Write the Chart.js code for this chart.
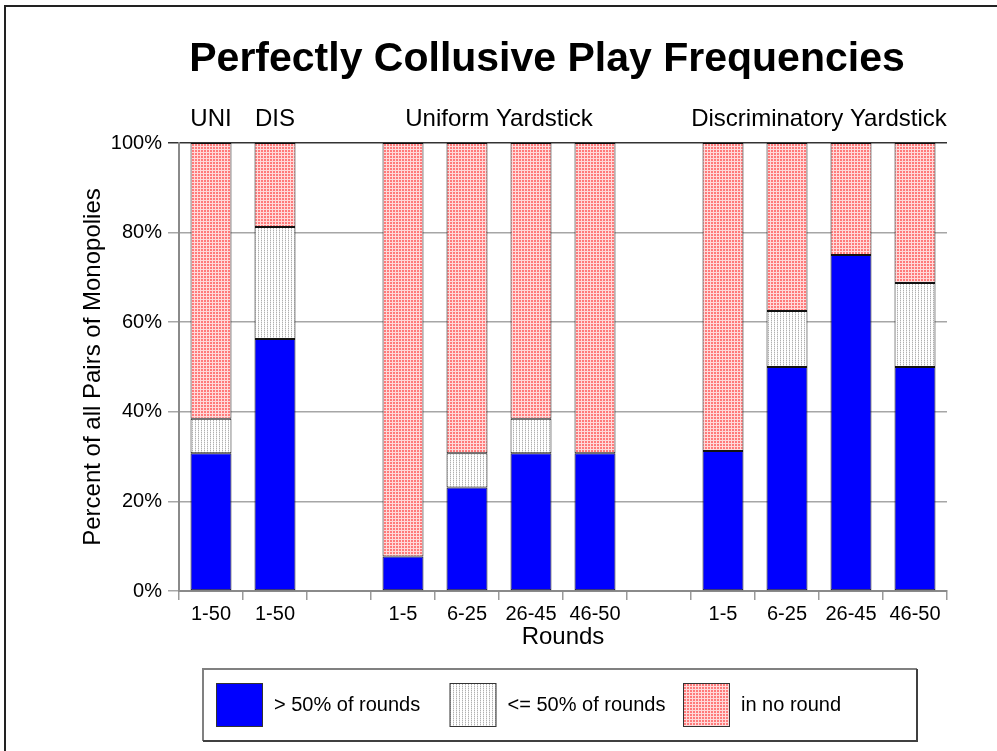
<!DOCTYPE html>
<html>
<head>
<meta charset="utf-8">
<script src="https://cdn.jsdelivr.net/npm/chart.js@4/dist/chart.umd.min.js"></script>
<style>
  html, body { margin: 0; padding: 0; background: #fff; }
  #wrap { position: relative; width: 997px; height: 751px; }
  canvas { display: block; }
</style>
</head>
<body>
<div id="wrap"><canvas id="c" width="997" height="751"></canvas></div>
<script>
// ---- data ----
const categories = ['1-50', '1-50', '', '1-5', '6-25', '26-45', '46-50', '', '1-5', '6-25', '26-45', '46-50'];
const above50 = [30.77, 56.25, null, 7.69, 23.08, 30.77, 30.77, null, 31.25, 50, 75, 50];
const upTo50  = [7.69, 25, null, 0, 7.69, 7.69, 0, null, 0, 12.5, 0, 18.75];
const noRound = [61.54, 18.75, null, 92.31, 69.23, 61.54, 69.23, null, 68.75, 37.5, 25, 31.25];
const seriesNames = ['> 50% of rounds', '<= 50% of rounds', 'in no round'];
const groupNames = ['UNI', 'DIS', 'Uniform Yardstick', 'Discriminatory Yardstick'];
const groupStart = [0, 1, 3, 8];
const groupEnd   = [0, 1, 6, 11];
const yTicks = [0, 20, 40, 60, 80, 100];
const chartTitle = 'Perfectly Collusive Play Frequencies';
const xTitle = 'Rounds';
const yTitle = 'Percent of all Pairs of Monopolies';

// ---- patterns ----
function makePattern(w, h, draw) {
  const c = document.createElement('canvas');
  c.width = w; c.height = h;
  const g = c.getContext('2d');
  draw(g);
  return document.getElementById('c').getContext('2d').createPattern(c, 'repeat');
}
const pinkPattern = makePattern(3, 3, g => {
  g.fillStyle = '#ffdada'; g.fillRect(0, 0, 3, 3);
  g.fillStyle = '#ff7a7a'; g.fillRect(0, 0, 2, 2);
});
const grayPattern = makePattern(3, 2, g => {
  g.fillStyle = '#ffffff'; g.fillRect(0, 0, 3, 2);
  g.fillStyle = '#b0b0b0'; g.fillRect(0, 0, 1, 1);
  g.fillStyle = '#e2e2e2'; g.fillRect(0, 1, 1, 1);
});
const fills = ['#0000ff', grayPattern, pinkPattern];

const FONT = "'Liberation Sans', Arial, Helvetica, sans-serif";
Chart.defaults.font.family = FONT;
Chart.defaults.color = '#000';

const decor = {
  id: 'decor',
  afterDraw(chart) {
    const ctx = chart.ctx;
    const xs = chart.scales.x;
    ctx.save();
    // outer frame (top + left)
    ctx.strokeStyle = '#222';
    ctx.lineWidth = 2;
    ctx.beginPath();
    ctx.moveTo(5, 751); ctx.lineTo(5, 6); ctx.lineTo(997, 6);
    ctx.stroke();
    // title
    ctx.fillStyle = '#000';
    ctx.font = 'bold 41px ' + FONT;
    ctx.textAlign = 'center';
    ctx.textBaseline = 'alphabetic';
    ctx.fillText(chartTitle, 547, 71);
    // group labels
    ctx.font = '24px ' + FONT;
    for (let i = 0; i < groupNames.length; i++) {
      const cx = (xs.getPixelForValue(groupStart[i]) + xs.getPixelForValue(groupEnd[i])) / 2;
      ctx.fillText(groupNames[i], cx, 126);
    }
    // legend box
    const bx = 203, by = 669, bw = 714, bh = 72;
    ctx.lineWidth = 2;
    ctx.strokeStyle = '#808080';
    ctx.beginPath();
    ctx.moveTo(bx, by + bh); ctx.lineTo(bx, by); ctx.lineTo(bx + bw, by);
    ctx.stroke();
    ctx.strokeStyle = '#404040';
    ctx.beginPath();
    ctx.moveTo(bx + bw, by); ctx.lineTo(bx + bw, by + bh); ctx.lineTo(bx, by + bh);
    ctx.stroke();
    ctx.font = '20px ' + FONT;
    ctx.textAlign = 'left';
    ctx.textBaseline = 'middle';
    for (let i = 0; i < seriesNames.length; i++) {
      const sx = 216 + i * 233.5, sy = 683;
      ctx.fillStyle = fills[i];
      ctx.fillRect(sx, sy, 47, 44);
      ctx.lineWidth = 1;
      ctx.strokeStyle = '#333';
      ctx.strokeRect(sx + 0.5, sy + 0.5, 46, 43);
      ctx.fillStyle = '#000';
      ctx.fillText(seriesNames[i], sx + 58, sy + 22);
    }
    ctx.restore();
  }
};

new Chart(document.getElementById('c'), {
  type: 'bar',
  data: {
    labels: categories,
    datasets: [above50, upTo50, noRound].map((d, i) => ({
      label: seriesNames[i],
      data: d,
      backgroundColor: fills[i],
      borderColor: '#111',
      borderWidth: 1,
      borderSkipped: false,
      barPercentage: 0.64,
      categoryPercentage: 1.0
    }))
  },
  options: {
    responsive: false,
    animation: false,
    events: [],
    layout: { padding: { left: 75, right: 50, top: 143, bottom: 97 } },
    plugins: { legend: { display: false }, title: { display: false }, tooltip: { enabled: false } },
    scales: {
      x: {
        stacked: true,
        afterFit: s => { s.height = 63; },
        grid: { offset: true, drawOnChartArea: false, drawTicks: true, tickLength: 9, color: '#9a9a9a', lineWidth: 1.5 },
        border: { color: '#8a8a8a', width: 2 },
        ticks: { autoSkip: false, maxRotation: 0, padding: 2, font: { size: 20 }, color: '#000' },
        title: { display: true, text: xTitle, font: { size: 24 }, color: '#000', padding: { top: 2, bottom: 2 } }
      },
      y: {
        stacked: true,
        min: 0, max: 100,
        afterFit: s => { s.width = 104; },
        afterBuildTicks: s => { s.ticks = yTicks.map(v => ({ value: v })); },
        grid: { color: ctx => (ctx.tick && ctx.tick.value === 100 ? '#333' : '#a6a6a6'), lineWidth: 1.5, tickLength: 11 },
        border: { color: '#8a8a8a', width: 2 },
        ticks: { padding: 6, font: { size: 20 }, color: '#000', callback: v => v + '%' },
        title: { display: true, text: yTitle, font: { size: 24 }, color: '#000', padding: 4 }
      }
    }
  },
  plugins: [decor]
});
</script>
</body>
</html>
